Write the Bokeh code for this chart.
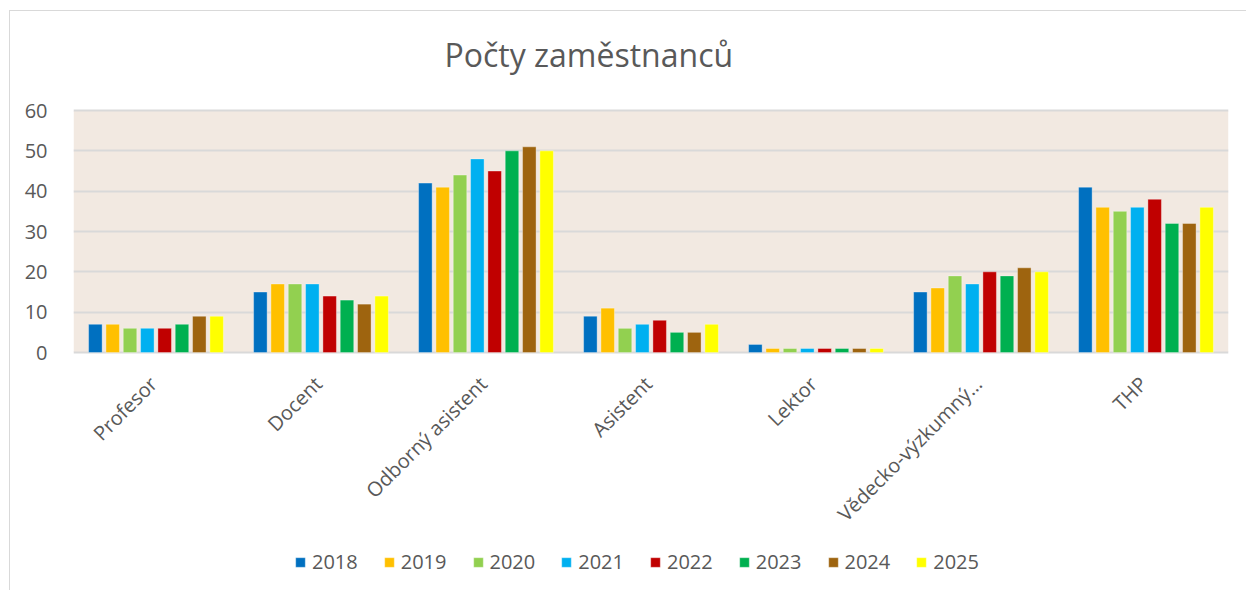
import math
from bokeh.plotting import figure
from bokeh.models import Legend, LegendItem, ColumnDataSource, FactorRange, BoxAnnotation, Label
from bokeh.transform import dodge
from bokeh.core.properties import value
from bokeh.embed import file_html
from bokeh.resources import INLINE

title_text = "Počty zaměstnanců"
categories = ["Profesor", "Docent", "Odborný asistent", "Asistent", "Lektor",
              "Vědecko-výzkumný…", "THP"]
years = ["2018", "2019", "2020", "2021", "2022", "2023", "2024", "2025"]
v2018 = [7, 15, 42, 9, 2, 15, 41]
v2019 = [7, 17, 41, 11, 1, 16, 36]
v2020 = [6, 17, 44, 6, 1, 19, 35]
v2021 = [6, 17, 48, 7, 1, 17, 36]
v2022 = [6, 14, 45, 8, 1, 20, 38]
v2023 = [7, 13, 50, 5, 1, 19, 32]
v2024 = [9, 12, 51, 5, 1, 21, 32]
v2025 = [9, 14, 50, 7, 1, 20, 36]
series = [v2018, v2019, v2020, v2021, v2022, v2023, v2024, v2025]
colors = ["#0070C0", "#FFC000", "#92D050", "#00B0F0", "#C00000", "#00B050", "#9E640F", "#FFFF00"]
y_ticks = [0, 10, 20, 30, 40, 50, 60]
y_min, y_max = 0, 60

FONT = "Open Sans"
GRAY = "#595959"

data = {"cat": categories}
for y, s in zip(years, series):
    data[y] = s
src = ColumnDataSource(data)

# frame extends above and below the value area so that title, category labels
# and legend can be drawn inside it (px per unit = 242 / 60)
p = figure(frame_width=1155, frame_height=578, x_range=FactorRange(*categories),
           y_range=(-59.0, 84.3),
           output_backend="svg", toolbar_location=None,
           min_border_left=63, min_border_right=18, min_border_top=1, min_border_bottom=0,
           background_fill_color="white", border_fill_color="white", outline_line_color=None,
           styles={"margin-left": "9px", "margin-top": "10px",
                   "border-left": "1px solid #D9D9D9", "border-top": "1px solid #D9D9D9"})
p.title.visible = False

p.add_layout(BoxAnnotation(bottom=y_min, top=y_max, fill_color="#F2E9E1", fill_alpha=1,
                           line_color=None, level="image"))

p.add_layout(Label(x=371, y=536, x_units="screen", y_units="screen", text=title_text,
                   text_font=FONT, text_font_size="32px", text_color=GRAY,
                   text_baseline="middle", text_align="left"))

slot = 0.105
items = []
for i, (y, c) in enumerate(zip(years, colors)):
    r = p.vbar(x=dodge("cat", (i - 3.5) * slot, range=p.x_range), top=y, width=0.082,
               source=src, fill_color=c, line_color="white", line_alpha=0.35, line_width=1)
    items.append(LegendItem(label=y, renderers=[r]))

p.text(x=dodge("cat", -0.075, range=p.x_range), y=-4.5, text="cat", source=src,
       angle=math.pi / 4, text_align="right", text_baseline="top",
       text_font=value(FONT), text_font_size=value("20px"), text_color=GRAY)

legend = Legend(items=items, orientation="horizontal", location=(221, 15),
                label_text_font=FONT, label_text_font_size="20px", label_text_color=GRAY,
                glyph_width=12, glyph_height=12, label_standoff=6, spacing=25,
                padding=0, margin=0, background_fill_alpha=0, border_line_color=None)
p.add_layout(legend, "center")

p.yaxis.ticker = y_ticks
p.yaxis.axis_line_color = None
p.yaxis.major_tick_line_color = None
p.yaxis.minor_tick_line_color = None
p.yaxis.major_label_text_font = FONT
p.yaxis.major_label_text_font_size = "20px"
p.yaxis.major_label_text_color = GRAY
p.yaxis.major_label_standoff = 20

p.xaxis.visible = False

p.xgrid.grid_line_color = None
p.ygrid.grid_line_color = "#D9D9D9"
p.ygrid.grid_line_width = 2

open("out.html", "w").write(file_html(p, INLINE))
